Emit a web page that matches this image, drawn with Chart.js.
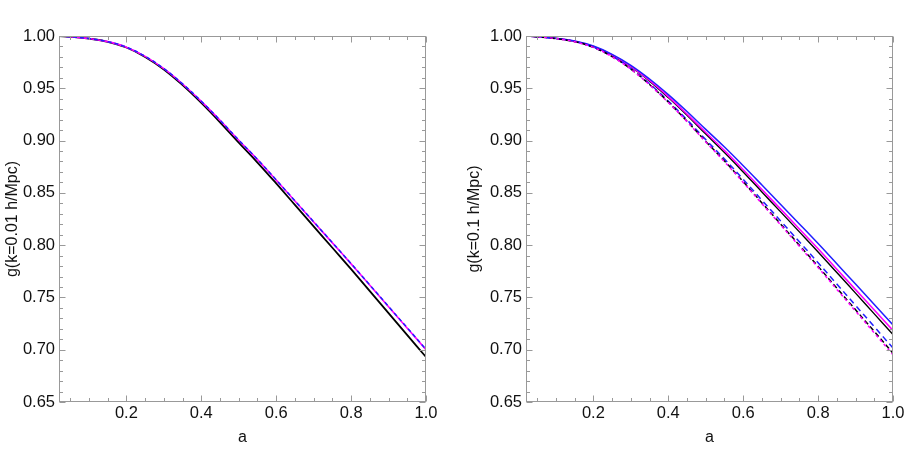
<!DOCTYPE html>
<html>
<head>
<meta charset="utf-8">
<script src="https://cdn.jsdelivr.net/npm/chart.js@4.4.1/dist/chart.umd.min.js"></script>
<style>
  body { margin: 0; background: #fff; overflow: hidden; width: 905px; height: 473px; }
  canvas { position: absolute; top: 0; }
  #left { left: 0; }
  #right { left: 452px; }
</style>
</head>
<body>
<canvas id="left" width="452" height="473"></canvas>
<canvas id="right" width="470" height="473"></canvas>
<script>
// scale factor a (x axis)
var aValues = [0.02, 0.05, 0.10, 0.15, 0.20, 0.25, 0.30, 0.35, 0.40, 0.45, 0.50,
               0.55, 0.60, 0.65, 0.70, 0.75, 0.80, 0.85, 0.90, 0.95, 1.00];

// tick labels
var xTicks = [0.2, 0.4, 0.6, 0.8, 1.0];
var yTicks = [0.65, 0.70, 0.75, 0.80, 0.85, 0.90, 0.95, 1.00];

// left panel, k = 0.01 h/Mpc
var leftBlack = [1.0, 0.9993, 0.9975, 0.9945, 0.989, 0.980, 0.968, 0.953, 0.936, 0.9175, 0.898,
                 0.879, 0.859, 0.8385, 0.818, 0.7975, 0.777, 0.756, 0.735, 0.714, 0.693];
var leftMagenta = [1.0, 0.9993, 0.9976, 0.9946, 0.9893, 0.9805, 0.9687, 0.9541, 0.9375, 0.9194, 0.9003,
                   0.8818, 0.8622, 0.8422, 0.8222, 0.8022, 0.7821, 0.7616, 0.7411, 0.7206, 0.7001];
var leftBlueDashed = [1.0, 0.9993, 0.9976, 0.9946, 0.9893, 0.9806, 0.9688, 0.9542, 0.9376, 0.9195, 0.9005,
                      0.8820, 0.8624, 0.8424, 0.8224, 0.8024, 0.7823, 0.7619, 0.7414, 0.7209, 0.7004];

// right panel, k = 0.1 h/Mpc
var rightBlue = [1.0, 0.9994, 0.9978, 0.9952, 0.9904, 0.9825, 0.972, 0.9589, 0.944, 0.9278, 0.9107,
                 0.8938, 0.8759, 0.8575, 0.8389, 0.8203, 0.8015, 0.7822, 0.7628, 0.7433, 0.7237];
var rightMagenta = [1.0, 0.9994, 0.9977, 0.995, 0.990, 0.9819, 0.971, 0.9575, 0.9421, 0.9253, 0.9077,
                    0.8904, 0.8721, 0.8532, 0.8344, 0.8155, 0.7966, 0.777, 0.7575, 0.738, 0.7185];
var rightBlack = [1.0, 0.9994, 0.9977, 0.9949, 0.9899, 0.9816, 0.9706, 0.9568, 0.9411, 0.9241, 0.9062,
                  0.8886, 0.870, 0.8509, 0.8318, 0.8127, 0.7935, 0.7738, 0.7541, 0.7343, 0.7145];
var rightBlueDashed = [1.0, 0.9993, 0.9976, 0.9947, 0.9893, 0.9806, 0.9689, 0.9543, 0.9378, 0.9198, 0.9009,
                       0.8824, 0.8629, 0.843, 0.8231, 0.8032, 0.7832, 0.7628, 0.7424, 0.722, 0.7016];
var rightBlackDashed = [1.0, 0.9993, 0.9975, 0.9946, 0.9891, 0.9802, 0.9684, 0.9536, 0.9368, 0.9185, 0.8992,
                        0.8805, 0.8607, 0.8404, 0.8202, 0.7999, 0.7797, 0.7589, 0.7382, 0.7174, 0.6967];
var rightMagentaDashed = [1.0, 0.9993, 0.9975, 0.9945, 0.9891, 0.9801, 0.9682, 0.9533, 0.9364, 0.9181, 0.8987,
                          0.8798, 0.86, 0.8396, 0.8193, 0.7989, 0.7786, 0.7577, 0.7369, 0.716, 0.6951];

var FONT = "'Liberation Sans', Arial, Helvetica, sans-serif";
var BLUE = '#1f1fff';
var MAGENTA = '#ff00ff';
var BLACK = '#000000';

function pts(ys) {
  return aValues.map(function(a, i) { return {x: a, y: ys[i]}; });
}

function line(ys, color, dash, width) {
  return {
    data: pts(ys),
    borderColor: color,
    borderWidth: width || 1.5,
    borderDash: dash || [],
    pointRadius: 0,
    fill: false,
    tension: 0.4
  };
}

// frame with inward ticks on all four sides, like the original
var framePlugin = {
  id: 'frame',
  afterDatasetsDraw: function(chart) {
    var ctx = chart.ctx, ca = chart.chartArea;
    var x = chart.scales.x, y = chart.scales.y;
    var L = Math.round(ca.left) + 0.5, R = Math.round(ca.right) - 0.5;
    var T = Math.round(ca.top) + 0.5, B = Math.round(ca.bottom) - 0.5;
    ctx.save();
    ctx.strokeStyle = '#999999';
    ctx.lineWidth = 1;
    ctx.strokeRect(L, T, R - L, B - T);
    ctx.beginPath();
    for (var k = 1; k <= 20; k++) {
      var v = k * 0.05;
      var px = Math.round(x.getPixelForValue(v)) + 0.5;
      var len = (k % 4 === 0) ? 6 : 3.5;
      ctx.moveTo(px, B); ctx.lineTo(px, B - len);
      ctx.moveTo(px, T); ctx.lineTo(px, T + len);
    }
    for (var j = 0; j <= 35; j++) {
      var w = 0.65 + j * 0.01;
      var py = Math.round(y.getPixelForValue(w)) + 0.5;
      var ylen = (j % 5 === 0) ? 6 : 3.5;
      ctx.moveTo(L, py); ctx.lineTo(L + ylen, py);
      ctx.moveTo(R, py); ctx.lineTo(R - ylen, py);
    }
    ctx.stroke();
    ctx.restore();
  }
};

function makeOptions(yTitle, padLeft, yWidth, padRight) {
  return {
    responsive: false,
    animation: false,
    layout: { padding: { top: 36, right: padRight, bottom: 22, left: padLeft } },
    plugins: { legend: { display: false }, tooltip: { enabled: false } },
    scales: {
      x: {
        type: 'linear',
        min: 0.02,
        max: 1.0,
        grid: { display: false, drawTicks: false },
        border: { display: false },
        afterBuildTicks: function(s) { s.ticks = xTicks.map(function(v) { return {value: v}; }); },
        afterFit: function(s) { s.height = 49; },
        ticks: {
          autoSkip: false,
          maxRotation: 0,
          padding: 2,
          color: '#111',
          font: { family: FONT, size: 16.5 },
          callback: function(v) { return Number(v).toFixed(1); }
        },
        title: {
          display: true,
          text: 'a',
          color: '#111',
          padding: { top: 4, bottom: 4 },
          font: { family: FONT, size: 16 }
        }
      },
      y: {
        type: 'linear',
        min: 0.65,
        max: 1.0,
        grid: { display: false, drawTicks: false },
        border: { display: false },
        afterBuildTicks: function(s) { s.ticks = yTicks.map(function(v) { return {value: v}; }); },
        afterFit: function(s) { s.width = yWidth; },
        ticks: {
          autoSkip: false,
          padding: 4,
          color: '#111',
          font: { family: FONT, size: 16.5 },
          callback: function(v) { return Number(v).toFixed(2); }
        },
        title: {
          display: true,
          text: yTitle,
          color: '#111',
          padding: { top: 3, bottom: 4 },
          font: { family: FONT, size: 16 }
        }
      }
    }
  };
}

new Chart(document.getElementById('left'), {
  type: 'line',
  data: {
    datasets: [
      line(leftBlueDashed, BLUE, [4, 3], 1.5),
      line(leftMagenta, MAGENTA, [], 1.6),
      line(leftBlack, BLACK, [], 1.8)
    ]
  },
  options: makeOptions('g(k=0.01 h/Mpc)', 0, 59, 26),
  plugins: [framePlugin]
});

new Chart(document.getElementById('right'), {
  type: 'line',
  data: {
    datasets: [
      line(rightMagentaDashed, MAGENTA, [3, 3], 1.5),
      line(rightBlackDashed, BLACK, [5, 3], 1.5),
      line(rightBlueDashed, BLUE, [6, 4], 1.5),
      line(rightBlue, BLUE, [], 1.5),
      line(rightMagenta, MAGENTA, [], 1.6),
      line(rightBlack, BLACK, [], 1.4)
    ]
  },
  options: makeOptions('g(k=0.1 h/Mpc)', 10, 64, 29),
  plugins: [framePlugin]
});
</script>
</body>
</html>
